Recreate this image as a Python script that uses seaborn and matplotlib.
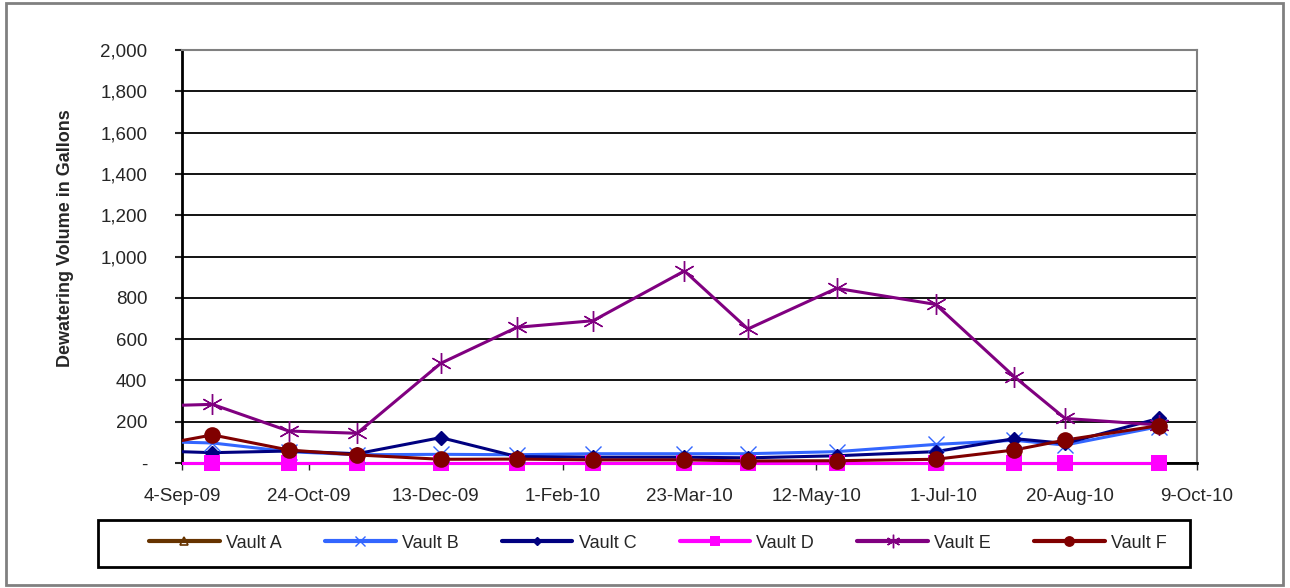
import numpy as np
import pandas as pd
import seaborn as sns
from matplotlib import pyplot as plt
from matplotlib.patches import Rectangle
from matplotlib.ticker import FuncFormatter


# Data (first date lies just left of the axis and is clipped)
dates = pd.to_datetime([
    "2009-08-21", "2009-09-16", "2009-10-16", "2009-11-12", "2009-12-15",
    "2010-01-14", "2010-02-13", "2010-03-21", "2010-04-15", "2010-05-20",
    "2010-06-28", "2010-07-29", "2010-08-18", "2010-09-24",
])
vault_a = [0, 0, 0, 0, 0, 0, 0, 0, 0, 0, 0, 0, 0, 0]
vault_b = [105, 97, 55, 40, 42, 40, 45, 45, 45, 55, 90, 110, 87, 176]
vault_c = [60, 50, 58, 45, 123, 31, 28, 28, 25, 35, 55, 118, 95, 216]
vault_d = [0, 0, 0, 0, 0, 0, 0, 0, 0, 0, 0, 0, 0, 0]
vault_e = [275, 284, 155, 144, 483, 657, 689, 930, 649, 846, 768, 418, 216, 184]
vault_f = [77, 136, 63, 39, 18, 19, 15, 15, 10, 11, 18, 63, 111, 181]

series_names = ["Vault A", "Vault B", "Vault C", "Vault D", "Vault E", "Vault F"]
tick_dates = pd.date_range("2009-09-04", periods=9, freq="50D")
y_ticks = np.arange(0, 2001, 200)

sns.set_style("white")
plt.rcParams["font.family"] = ["Liberation Sans", "DejaVu Sans"]

fig = plt.figure(figsize=(12.9, 5.88), dpi=100)
ax = fig.add_axes([182 / 1290, 1 - 463 / 588, (1197 - 182) / 1290, (463 - 50) / 588])

# one style per series
styles = {
    "Vault A": dict(color="#663300", marker="^", markersize=8, mfc="none", mew=1.2),
    "Vault B": dict(color="#3366FF", marker="x", markersize=11, mew=1.0),
    "Vault C": dict(color="#000080", marker="D", markersize=7, mew=1.0),
    "Vault D": dict(color="#FF00FF", marker="s", markersize=11, mew=0),
    "Vault E": dict(color="#800080", marker=(6, 2, 0), markersize=15, mew=1.0),
    "Vault F": dict(color="#800000", marker="o", markersize=12, mew=0),
}
values = [vault_a, vault_b, vault_c, vault_d, vault_e, vault_f]
in_range = dates >= tick_dates[0]

# clip lines only at the left/right, so the zero line sits on the axis
clip_rect = Rectangle((0, -0.03), 1, 1.06, transform=ax.transAxes,
                      fill=False, visible=False)
ax.add_patch(clip_rect)

legend_handles = []
for i, (name, vals) in enumerate(zip(series_names, values)):
    st = styles[name]
    vals = np.asarray(vals)
    mk = dict(marker=st["marker"], markersize=st["markersize"],
              markerfacecolor=st.get("mfc", st["color"]),
              markeredgecolor=st["color"], markeredgewidth=st["mew"])
    n_before = len(ax.lines)
    sns.lineplot(x=dates, y=vals, ax=ax, linewidth=2.2, color=st["color"],
                 zorder=2.6 + i * 0.1, legend=False)
    for ln in ax.lines[n_before:]:
        ln.set_clip_path(clip_rect)
    # markers are not clipped, like the spreadsheet chart
    sns.lineplot(x=dates[in_range], y=vals[in_range], ax=ax, linewidth=0,
                 color=st["color"], clip_on=False, zorder=3.2 + i * 0.1,
                 legend=False, **mk)
    h, = ax.plot([], [], color=st["color"], linewidth=2.2, **mk)
    h.set_markersize(st["markersize"] * 0.65)
    legend_handles.append(h)

ax.set_xlim(tick_dates[0], tick_dates[-1])
ax.set_ylim(0, 2000)
ax.set_xticks(tick_dates)
ax.set_xticklabels([f"{d.day}-{d.strftime('%b-%y')}" for d in tick_dates], fontsize=13.5)
ax.set_yticks(y_ticks)
ax.yaxis.set_major_formatter(FuncFormatter(lambda v, p: "-" if v == 0 else f"{int(v):,}"))
ax.tick_params(axis="y", labelsize=13.5, length=5, width=1.5, direction="out", pad=20, left=True)
ax.tick_params(axis="x", length=5, width=1, direction="out", pad=13, bottom=True)

ax.grid(axis="y", color="black", linewidth=1.3)
ax.set_axisbelow(True)
ax.set_xlabel("")
ax.set_ylabel("Dewatering Volume in Gallons", fontsize=13, fontweight="bold")
ax.yaxis.set_label_coords(-0.106, (463 - 238) / 413)

for side in ["left", "bottom"]:
    ax.spines[side].set_color("black")
    ax.spines[side].set_linewidth(2)
for side in ["top", "right"]:
    ax.spines[side].set_visible(True)
    ax.spines[side].set_color("#808080")
    ax.spines[side].set_linewidth(1.5)

leg = fig.legend(legend_handles, series_names, loc="center", ncol=6,
                 bbox_to_anchor=(658 / 1290, 1 - 543 / 588), frameon=False,
                 fontsize=13, handlelength=3.9, handletextpad=0.35,
                 columnspacing=2.4)
for h in leg.get_lines():
    h.set_linewidth(3)

# legend box and outer chart border
fig.patches.append(Rectangle((98 / 1290, 1 - 567 / 588), 1092 / 1290, 47 / 588,
                             transform=fig.transFigure, fill=False,
                             edgecolor="black", linewidth=2))
fig.patches.append(Rectangle((6 / 1290, 3 / 588), 1277 / 1290, 582 / 588,
                             transform=fig.transFigure, fill=False,
                             edgecolor="#808080", linewidth=2))

plt.savefig("out.png", dpi=100)
